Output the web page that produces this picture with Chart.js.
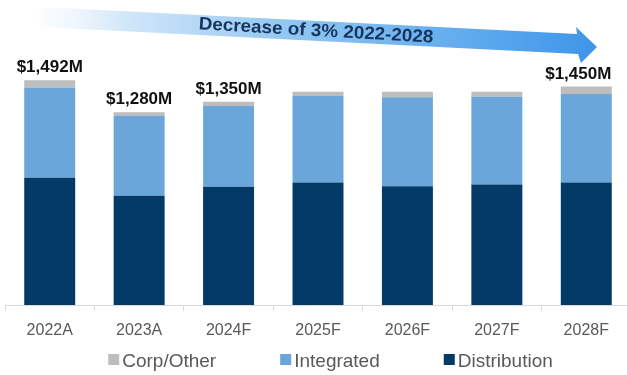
<!DOCTYPE html>
<html>
<head>
<meta charset="utf-8">
<script src="https://cdn.jsdelivr.net/npm/chart.js@4.4.1/dist/chart.umd.min.js"></script>
<style>
  html, body { margin: 0; padding: 0; background: #fff; overflow: hidden; }
  #wrap { position: relative; width: 632px; height: 375px; }
</style>
</head>
<body>
<div id="wrap"><canvas id="revenue-chart"></canvas></div>
<script>
// revenue by segment, $M
const years = ['2022A', '2023A', '2024F', '2025F', '2026F', '2027F', '2028F'];
const distribution = [844, 725, 785, 813, 789, 800, 813];
const integrated = [598, 530, 536, 574, 590, 583, 588];
const corpOther = [50, 25, 29, 29, 37, 33, 49];
const labelledYears = ['2022A', '2023A', '2024F', '2028F'];
const trendText = 'Decrease of 3% 2022-2028';

const FONT = '"Liberation Sans", Arial, Helvetica, sans-serif';
const COLORS = { distribution: '#033a68', integrated: '#6aa6da', corp: '#bdbdbd' };

// big slanted gradient arrow across the top
const trendArrow = {
    id: 'trendArrow',
    beforeDatasetsDraw(chart) {
        const ctx = chart.ctx;
        ctx.save();
        const grad = ctx.createLinearGradient(40, 0, 597, 0);
        grad.addColorStop(0, 'rgba(235,244,253,0.2)');
        grad.addColorStop(0.15, '#d2e7fa');
        grad.addColorStop(0.45, '#90c6f2');
        grad.addColorStop(0.8, '#5ba8ee');
        grad.addColorStop(1, '#3f95ea');
        ctx.fillStyle = grad;
        ctx.beginPath();
        ctx.moveTo(40, 7);
        ctx.lineTo(577, 34);
        ctx.lineTo(576, 27);
        ctx.lineTo(597, 47);
        ctx.lineTo(581, 63);
        ctx.lineTo(578, 54);
        ctx.lineTo(40, 27);
        ctx.closePath();
        ctx.fill();

        ctx.translate(316, 31);
        ctx.rotate(3.3 * Math.PI / 180);
        ctx.font = 'bold 18px ' + FONT;
        const w = ctx.measureText(trendText).width;
        ctx.scale(235 / w, 1);
        ctx.fillStyle = '#17365d';
        ctx.textAlign = 'center';
        ctx.textBaseline = 'middle';
        ctx.fillText(trendText, 0, 0);
        ctx.restore();
    }
};

// "$1,492M" style totals above selected bars
const barTotals = {
    id: 'barTotals',
    afterDatasetsDraw(chart) {
        const ctx = chart.ctx;
        const top = chart.getDatasetMeta(chart.data.datasets.length - 1);
        const last = years.length - 1;
        ctx.save();
        ctx.font = 'bold 17px ' + FONT;
        ctx.fillStyle = '#111111';
        ctx.textAlign = 'center';
        ctx.textBaseline = 'alphabetic';
        labelledYears.forEach(yr => {
            const i = years.indexOf(yr);
            const total = chart.data.datasets.reduce((s, ds) => s + ds.data[i], 0);
            const bar = top.data[i];
            // keep the last total tucked under the arrow head
            const dx = i === last ? -8 : 0;
            ctx.fillText('$' + total.toLocaleString('en-US') + 'M', bar.x + dx, bar.y - 8);
        });
        ctx.restore();
    }
};

// legend row along the bottom, tight box-to-text gap
const bottomLegend = {
    id: 'bottomLegend',
    afterDraw(chart) {
        const ctx = chart.ctx;
        const items = chart.data.datasets.slice().reverse();
        const box = 11, gap = 3, itemGap = 64;
        ctx.save();
        ctx.font = '19px ' + FONT;
        const widths = items.map(ds => box + gap + ctx.measureText(ds.label).width);
        const total = widths.reduce((a, b) => a + b, 0) + itemGap * (items.length - 1);
        let x = 330.5 - total / 2;
        items.forEach((ds, k) => {
            ctx.fillStyle = ds.backgroundColor;
            ctx.fillRect(x, 354, box, box);
            ctx.fillStyle = '#595959';
            ctx.textBaseline = 'alphabetic';
            ctx.fillText(ds.label, x + box + gap, 366.5);
            x += widths[k] + itemGap;
        });
        ctx.restore();
    }
};

new Chart(document.getElementById('revenue-chart').getContext('2d'), {
    type: 'bar',
    data: {
        labels: years,
        datasets: [
            { label: 'Distribution', data: distribution, backgroundColor: COLORS.distribution },
            { label: 'Integrated', data: integrated, backgroundColor: COLORS.integrated },
            { label: 'Corp/Other', data: corpOther, backgroundColor: COLORS.corp }
        ]
    },
    options: {
        responsive: true,
        maintainAspectRatio: false,
        animation: false,
        datasets: { bar: { barPercentage: 0.57, categoryPercentage: 1.0, borderWidth: 0 } },
        layout: { padding: { top: 64, bottom: 30, left: 5, right: 1 } },
        plugins: { legend: { display: false }, tooltip: { enabled: false } },
        scales: {
            x: {
                stacked: true,
                grid: { display: true, drawOnChartArea: false, drawTicks: true, tickLength: 6, color: '#d9d9d9', offset: true },
                border: { display: true, color: '#d9d9d9' },
                ticks: { color: '#595959', font: { family: FONT, size: 16 }, padding: 10 },
                afterFit: (s) => { s.height = 40; }
            },
            y: { stacked: true, display: false, min: 0, max: 1600 }
        }
    },
    plugins: [trendArrow, barTotals, bottomLegend]
});
</script>
</body>
</html>
